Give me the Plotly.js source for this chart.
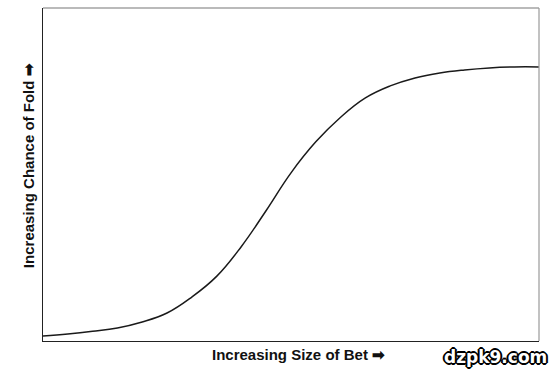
<!DOCTYPE html>
<html>
<head>
<meta charset="utf-8">
<script src="https://cdn.plot.ly/plotly-3.0.1.min.js"></script>
<style>html,body{margin:0;padding:0;background:#fff;}#chart{width:554px;height:369px;}</style>
</head>
<body>
<div id="chart"></div>
<script>
// Relative bet size (0-100) vs relative chance of fold (0-100)
const betSize = [0, 5, 10, 15, 20, 25, 30, 35, 40, 45, 50, 55, 60, 65, 70, 75, 80, 85, 90, 95, 100];
const foldChance = [1.5, 2.1, 2.9, 3.9, 5.7, 8.4, 13.2, 19.4, 28.4, 39.2, 50.5, 59.8, 67.2, 73.0, 76.6, 79.0, 80.5, 81.4, 82.0, 82.3, 82.3];
const xTitle = 'Increasing Size of Bet \u27A1';
const yTitle = 'Increasing Chance of Fold \u27A1';
const watermark = 'dzpk9.com';

const trace = {
  x: betSize, y: foldChance, type: 'scatter', mode: 'lines',
  line: {color: '#1a1a1a', width: 1.5, shape: 'spline', smoothing: 1.2},
  hoverinfo: 'skip'
};

const titleFont = {family: 'Liberation Sans, Arial, sans-serif', size: 15, weight: 'bold', color: '#111'};

const layout = {
  width: 554, height: 369,
  margin: {l: 43, r: 15, t: 8, b: 28},
  paper_bgcolor: '#fff', plot_bgcolor: '#fff',
  showlegend: false,
  font: {family: 'Liberation Sans, Arial, sans-serif', color: '#111'},
  xaxis: {
    range: [0, 100], showgrid: false, zeroline: false, showticklabels: false, ticks: '',
    showline: true, linecolor: '#222', linewidth: 1.2
  },
  yaxis: {
    range: [0, 100], showgrid: false, zeroline: false, showticklabels: false, ticks: '',
    showline: true, linecolor: '#222', linewidth: 1.2
  },
  shapes: [
    {type: 'line', xref: 'paper', yref: 'paper', x0: 0, x1: 1, y0: 1, y1: 1, line: {color: '#777', width: 1.2}},
    {type: 'line', xref: 'paper', yref: 'paper', x0: 1, x1: 1, y0: 0, y1: 1, line: {color: '#999', width: 1.2}}
  ],
  annotations: [
    {text: xTitle, xref: 'paper', yref: 'paper', x: 0.516, y: -0.042, xanchor: 'center', yanchor: 'middle',
     showarrow: false, font: titleFont},
    {text: yTitle, xref: 'paper', yref: 'paper', x: -0.030, y: 0.5255, xanchor: 'center', yanchor: 'middle',
     textangle: -90, showarrow: false, font: titleFont},
    {text: '<b>' + watermark + '</b>', xref: 'paper', yref: 'paper',
     x: 1.02, y: -0.012, xanchor: 'right', yanchor: 'top', showarrow: false,
     font: {family: 'DejaVu Sans, sans-serif', size: 17, color: '#fff',
       shadow: '1px 1px 0 #000, -1px -1px 0 #000, 1px -1px 0 #000, -1px 1px 0 #000, 2px 0 0 #000, -2px 0 0 #000, 0 2px 0 #000, 0 -2px 0 #000'}}
  ]
};

Plotly.newPlot('chart', [trace], layout, {displayModeBar: false, staticPlot: true});
</script>
</body>
</html>
